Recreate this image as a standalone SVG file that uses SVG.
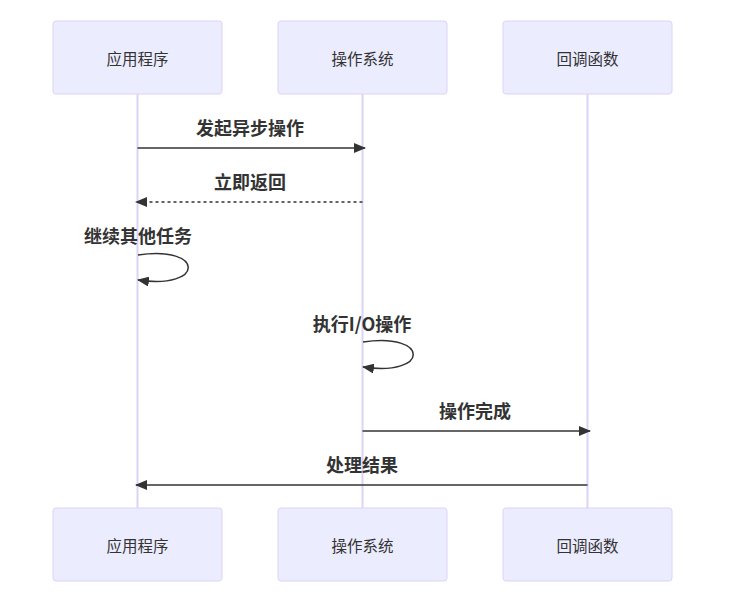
<svg xmlns="http://www.w3.org/2000/svg" width="732" height="611" viewBox="0 0 732 611">
<style>
.box{fill:#ECECFF;stroke:#DCD4F7;stroke-width:1}
.life{stroke:#DCD4F7;stroke-width:2}
.lbl{font-family:"Noto Sans CJK SC","Noto Sans",sans-serif;font-size:15.5px;fill:#333;text-anchor:middle;dominant-baseline:central}
.msg{font-family:"Noto Sans CJK SC","Noto Sans",sans-serif;font-size:18px;font-weight:bold;fill:#333;text-anchor:middle;dominant-baseline:central}
.ln{stroke:#333;stroke-width:1.5;fill:none}
.dash{stroke-dasharray:3 3}
</style>
<defs>
<marker id="arr" viewBox="0 0 12 10" refX="11" refY="5" markerWidth="12" markerHeight="10" markerUnits="userSpaceOnUse" orient="auto">
<path d="M0,0 L12,5 L0,10 z" fill="#333"/>
</marker>
</defs>
<rect width="732" height="611" fill="#fff"/>
<g id="lifelines">
<line class="life" x1="137.5" y1="94" x2="137.5" y2="508"/>
<line class="life" x1="362.5" y1="94" x2="362.5" y2="508"/>
<line class="life" x1="587.5" y1="94" x2="587.5" y2="508"/>
</g>
<g id="app-top"><rect class="box" x="53" y="21" width="169" height="73" rx="3"/><text class="lbl" x="137.5" y="58">应用程序</text></g>
<g id="os-top"><rect class="box" x="278" y="21" width="169" height="73" rx="3"/><text class="lbl" x="362.5" y="58">操作系统</text></g>
<g id="cb-top"><rect class="box" x="503" y="21" width="169" height="73" rx="3"/><text class="lbl" x="587.5" y="58">回调函数</text></g>
<g id="app-bottom"><rect class="box" x="53" y="508" width="169" height="73" rx="3"/><text class="lbl" x="137.5" y="545">应用程序</text></g>
<g id="os-bottom"><rect class="box" x="278" y="508" width="169" height="73" rx="3"/><text class="lbl" x="362.5" y="545">操作系统</text></g>
<g id="cb-bottom"><rect class="box" x="503" y="508" width="169" height="73" rx="3"/><text class="lbl" x="587.5" y="545">回调函数</text></g>
<g id="connectors">
<line class="ln" x1="137.5" y1="148" x2="365" y2="148" marker-end="url(#arr)"/>
<text class="msg" x="250" y="127">发起异步操作</text>
<line class="ln dash" x1="362.5" y1="202" x2="136" y2="202" marker-end="url(#arr)"/>
<text class="msg" x="250" y="181">立即返回</text>
<path class="ln" d="M138,255 C205,245 205,290 138,280" marker-end="url(#arr)"/>
<text class="msg" x="138" y="235">继续其他任务</text>
<path class="ln" d="M363,342 C430,332 430,377 363,367" marker-end="url(#arr)"/>
<text class="msg" x="362" y="323">执行I/O操作</text>
<line class="ln" x1="362.5" y1="431" x2="590" y2="431" marker-end="url(#arr)"/>
<text class="msg" x="475" y="410">操作完成</text>
<line class="ln" x1="587.5" y1="485" x2="136" y2="485" marker-end="url(#arr)"/>
<text class="msg" x="362" y="464">处理结果</text>
</g>
</svg>
